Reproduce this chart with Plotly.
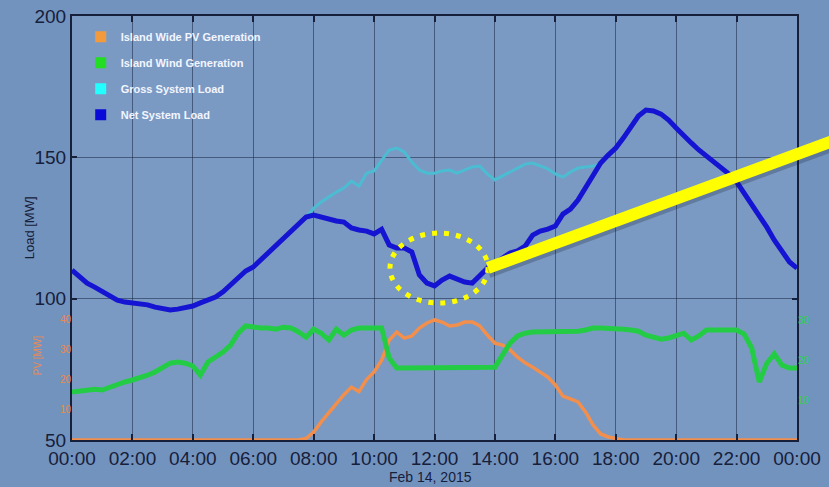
import pandas as pd
import plotly.graph_objects as go

# ---------------- data ----------------
start_time = "2015-02-14 00:00"
times = pd.date_range(start_time, periods=97, freq="15min")

net_load = [
    110.1, 108.0, 105.5, 104.1,
    102.4, 101.0, 99.5, 98.8,
    98.5, 98.1, 97.8, 97.0,
    96.3, 96.0, 96.3, 96.7,
    97.4, 98.5, 99.5, 100.6,
    102.4, 104.8, 107.3, 109.8,
    111.2, 113.7, 116.1, 118.6,
    121.5, 123.6, 126.4, 128.9,
    129.6, 128.9, 127.8, 127.5,
    127.1, 125.0, 124.3, 123.9,
    122.9, 124.5, 119.0, 117.9,
    117.9, 116.5, 108.4, 105.5,
    104.5, 106.6, 108.0, 107.0,
    105.9, 105.5, 108.0, 110.8,
    112.6, 114.4, 116.1, 116.9,
    118.6, 122.5, 123.9, 124.6,
    125.7, 129.9, 131.7, 134.9,
    139.1, 143.7, 148.0, 150.8,
    153.3, 156.8, 161.1, 164.6,
    166.7, 166.4, 165.3, 163.2,
    160.4, 157.5, 155.1, 152.6,
    150.5, 148.3, 146.2, 144.1,
    141.3, 137.4, 133.8, 129.9,
    125.3, 120.7, 116.5, 113.0,
    110.8,
]

wind_gen = [
    12.0, 12.2, 12.7, 12.7,
    12.5, 13.2, 14.0, 14.5,
    15.0, 15.5, 16.2, 17.0,
    18.2, 19.2, 19.5, 19.2,
    18.5, 16.2, 19.5, 20.7,
    22.0, 23.7, 26.7, 28.5,
    28.2, 28.0, 28.0, 27.7,
    28.2, 28.0, 27.0, 25.7,
    27.7, 26.7, 25.0, 27.7,
    26.2, 27.5, 28.0, 28.0,
    28.0, 28.0, 20.5, 18.0,
    18.0, 18.0, 18.0, 18.0,
    18.0, 18.0, 18.0, 18.0,
    18.0, 18.0, 18.0, 18.0,
    18.2, 21.2, 24.2, 26.0,
    26.7, 27.0, 27.0, 27.0,
    27.0, 27.0, 27.0, 27.2,
    27.5, 28.0, 28.0, 28.0,
    28.0, 27.7, 27.5, 27.2,
    26.2, 25.7, 25.2, 25.5,
    26.2, 26.7, 25.0, 26.0,
    27.5, 27.5, 27.5, 27.5,
    27.5, 26.5, 23.0, 14.5,
    19.2, 21.5, 18.7, 18.0,
    18.0,
]

pv_gen = [
    0, 0, 0, 0,
    0, 0, 0, 0,
    0, 0, 0, 0,
    0, 0, 0, 0,
    0, 0, 0, 0,
    0, 0, 0, 0,
    0, 0, 0, 0,
    0, 0, 0, 0.5,
    2.6, 6.0, 9.0, 12.0,
    15.0, 17.5, 16.0, 20.0,
    22.5, 26.4, 33.0, 35.7,
    33.7, 34.4, 37.0, 38.7,
    39.7, 39.0, 37.7, 38.0,
    39.0, 39.0, 37.7, 34.7,
    32.0, 31.4, 29.8, 27.4,
    25.5, 24.1, 22.5, 20.8,
    18.2, 14.5, 13.6, 12.6,
    9.3, 5.0, 2.0, 1.0,
    0.5, 0, 0, 0,
    0, 0, 0, 0,
    0, 0, 0, 0,
    0, 0, 0, 0,
    0, 0, 0, 0,
    0, 0, 0, 0,
    0,
]

gross_start = "2015-02-14 07:45"
gross_load = [
    128.9,
    132.0, 134.2, 136.0, 137.7,
    139.1, 141.6, 139.8, 144.4,
    145.2, 149.0, 152.6, 153.3,
    151.9, 148.3, 145.5, 144.4,
    144.4, 145.2, 145.5, 144.4,
    145.5, 146.6, 146.9, 144.1,
    142.0, 143.4, 144.8, 146.2,
    147.6, 148.0, 146.9, 145.9,
    144.1, 143.0, 144.8, 146.2,
    146.6, 146.9, 147.6,
]
gross_times = pd.date_range(gross_start, periods=len(gross_load), freq="15min")

x_tick_vals = pd.date_range(start_time, periods=13, freq="2h")
x_tick_text = ["00:00", "02:00", "04:00", "06:00", "08:00", "10:00", "12:00",
               "14:00", "16:00", "18:00", "20:00", "22:00", "00:00"]
load_ticks = [50, 100, 150, 200]
pv_ticks = [10, 20, 30, 40]
wind_ticks = [10, 20, 30]

legend_names = ["Island Wide PV Generation", "Island Wind Generation",
                "Gross System Load", "Net System Load"]
legend_colors = ["#f39a3c", "#22dd22", "#22ffff", "#0a0ad8"]

# ---------------- figure ----------------
DARK = "#16203a"
GRID = "rgba(25,40,70,0.55)"
FONT = "Liberation Sans, Arial, sans-serif"

fig = go.Figure()

fig.add_trace(go.Scatter(x=times, y=pv_gen, yaxis="y2", mode="lines",
                         line=dict(color="#f28f4c", width=3.5), showlegend=False))
fig.add_trace(go.Scatter(x=times, y=wind_gen, yaxis="y3", mode="lines",
                         line=dict(color="#24cc45", width=5), showlegend=False))
fig.add_trace(go.Scatter(x=gross_times, y=gross_load, mode="lines",
                         line=dict(color="#4cbcd2", width=3), showlegend=False))
fig.add_trace(go.Scatter(x=times, y=net_load, mode="lines",
                         line=dict(color="#1414d2", width=5), showlegend=False))

for i, (name, col) in enumerate(zip(legend_names, legend_colors)):
    fig.add_trace(go.Scatter(x=[None], y=[None], mode="markers", name=name,
                             legendgroup=f"g{i}",
                             marker=dict(symbol="square", size=11, color=col)))

fig.update_layout(
    width=829, height=487,
    margin=dict(l=72, r=32, t=16, b=47, autoexpand=False),
    paper_bgcolor="#7393bf",
    plot_bgcolor="#7b9ac3",
    font=dict(family=FONT, color=DARK),
    showlegend=True,
    legend=dict(x=0.012, y=0.985, xanchor="left", yanchor="top",
                bgcolor="rgba(0,0,0,0)", borderwidth=0,
                font=dict(size=11, color="#f2f5ff", family="Liberation Sans, Arial", weight="bold"),
                tracegroupgap=7, traceorder="grouped"),
    xaxis=dict(type="date", range=[times[0], times[-1]],
               tickvals=x_tick_vals, ticktext=x_tick_text,
               ticks="inside", ticklen=6, tickwidth=2, tickcolor=DARK,
               showline=True, linewidth=2, linecolor=DARK, mirror="ticks",
               showgrid=True, gridcolor=GRID, gridwidth=1, zeroline=False,
               automargin=False, tickfont=dict(size=19, color=DARK)),
    yaxis=dict(range=[50, 200], tickvals=load_ticks,
               ticks="inside", ticklen=5, tickwidth=2, tickcolor=DARK,
               showline=True, linewidth=2, linecolor=DARK, mirror="ticks",
               showgrid=True, gridcolor=GRID, gridwidth=1, zeroline=False,
               automargin=False, tickfont=dict(size=19, color=DARK)),
    yaxis2=dict(overlaying="y", side="left", anchor="x", range=[0, 140.2],
                tickvals=pv_ticks, ticks="", showgrid=False, showline=False,
                zeroline=False, automargin=False,
                tickfont=dict(size=10, color="#e88a50")),
    yaxis3=dict(overlaying="y", side="right", anchor="x", range=[0, 106],
                tickvals=wind_ticks, ticks="", showgrid=False, showline=False,
                zeroline=False, automargin=False,
                tickfont=dict(size=10, color="#30d050")),
    annotations=[
        dict(text="Load [MW]", xref="paper", yref="paper", x=-0.072, y=0.5,
             textangle=-90, showarrow=False, font=dict(size=13, color=DARK)),
        dict(text="PV [MW]", xref="paper", yref="paper", x=-0.058, y=0.149,
             textangle=-90, showarrow=False, font=dict(size=10, color="#e88a50")),
        dict(text="Feb 14, 2015", xref="paper", yref="paper", x=0.494, y=-0.087,
             xanchor="center", yanchor="middle",
             showarrow=False, font=dict(size=14, color=DARK)),
    ],
    shapes=[
        dict(type="circle", xref="paper", yref="paper",
             x0=0.4386, x1=0.5738, y0=0.323, y1=0.488,
             line=dict(color="#ffff00", width=5, dash="5px,7px")),
        dict(type="line", xref="paper", yref="paper",
             x0=0.5738, y0=0.398, x1=1.06, y1=0.704,
             line=dict(color="rgba(20,30,50,0.25)", width=14)),
        dict(type="line", xref="paper", yref="paper",
             x0=0.5738, y0=0.4057, x1=1.06, y1=0.712,
             line=dict(color="#ffff00", width=12)),
    ],
)

fig.write_html(
    "out.html",
    config={"displayModeBar": False},
    post_script="document.body.style.margin='0';document.body.style.overflow='hidden';",
)
